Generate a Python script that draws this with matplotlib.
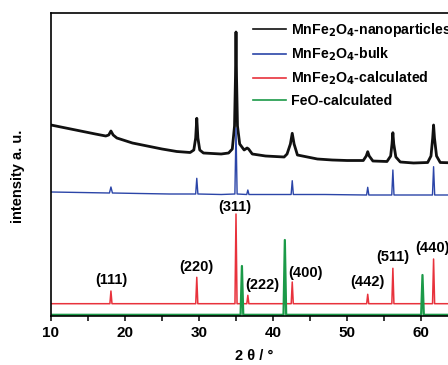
import numpy as np
import matplotlib
matplotlib.use("Agg")
import matplotlib.pyplot as plt
from matplotlib.lines import Line2D

plt.rcParams['font.family'] = ['Liberation Sans', 'DejaVu Sans']
plt.rcParams['font.weight'] = 'bold'
plt.rcParams['mathtext.default'] = 'bf'

# measured pattern: MnFe2O4 nanoparticles (2theta, intensity)
nano_x = [10.0, 12.0, 14.0, 16.0, 17.4, 17.8, 18.1, 18.4, 18.9, 21.0, 23.0, 25.0, 27.0,
          28.8, 29.3, 29.55, 29.7, 29.85, 30.1, 30.6, 33.0, 34.0, 34.5, 34.8, 34.93, 35.0,
          35.07, 35.2, 35.5, 36.1, 36.5, 36.7, 37.2, 39.0, 41.5, 41.9, 42.35, 42.6, 42.85,
          43.3, 46.0, 48.0, 50.0, 52.2, 52.6, 52.8, 53.0, 53.5, 55.4, 55.9, 56.08, 56.2,
          56.32, 56.6, 57.2, 59.0, 60.9, 61.35, 61.58, 61.7, 61.82, 62.1, 62.6, 65.0]
nano_y = [191, 188, 185, 182, 180, 181, 185, 181, 178, 173, 170, 167, 164.5,
          163.5, 166, 178, 197.7, 178, 166, 163, 162, 163, 167, 190, 240, 284,
          240, 190, 172, 166, 168, 167, 162, 160, 159, 162, 172, 182.7, 172,
          161, 157, 156, 155.5, 155.5, 160, 164.3, 160, 155, 154.5, 160, 172, 183.3,
          172, 159, 154, 153, 153.5, 160, 178, 191, 178, 160, 153.5, 153]

# measured pattern: MnFe2O4 bulk
bulk_x = [10.0, 14.0, 17.9, 18.1, 18.3, 22.0, 26.0, 29.55, 29.7, 29.85, 33.0, 34.85,
          35.0, 35.15, 36.45, 36.6, 36.75, 40.0, 42.45, 42.6, 42.75, 47.0, 52.65, 52.8,
          52.95, 56.05, 56.2, 56.35, 59.0, 61.55, 61.7, 61.85, 65.0]
bulk_y = [124, 123.5, 123, 129, 123, 122.5, 122, 122, 137.7, 122, 121.5, 122,
          187.7, 122, 121.5, 126, 121.5, 121.5, 121.5, 135.3, 121.5, 121.5, 121, 128.7,
          121, 121, 146, 121, 121, 121, 149.3, 121, 121]

# calculated reflections: MnFe2O4 (spinel) with hkl labels
calc_pos = [18.1, 29.7, 35.0, 36.6, 42.6, 52.8, 56.2, 61.7]
calc_int = [25, 38.7, 102, 20.7, 34, 21.7, 47.7, 57]
calc_base = 12.3
hkl = ["(111)", "(220)", "(311)", "(222)", "(400)", "(442)", "(511)", "(440)"]
hkl_x = [18.1, 29.7, 34.9, 38.5, 44.4, 52.7, 56.2, 61.6]
hkl_y = [36, 49.5, 109, 31, 43, 34, 59.5, 68]

# calculated reflections: FeO
feo_pos = [35.8, 41.6, 60.2]
feo_int = [50, 76, 41]
feo_base = 1.2

colors = ["#111111", "#2b45a8", "#e8323c", "#1b9a48"]
labels = [r"MnFe$_{2}$O$_{4}$-nanoparticles", r"MnFe$_{2}$O$_{4}$-bulk",
          r"MnFe$_{2}$O$_{4}$-calculated", "FeO-calculated"]


def stick_pattern(pos, inten, base, half=0.14):
    xs, ys = [10.0], [base]
    for p, h in zip(pos, inten):
        xs += [p - half, p, p + half]
        ys += [base, h, base]
    xs.append(65.0)
    ys.append(base)
    return xs, ys


fig = plt.figure(figsize=(4.48, 3.65), dpi=100)
ax = fig.add_axes([51 / 448, 49 / 365, 407 / 448, 303 / 365])

cx, cy = stick_pattern(calc_pos, calc_int, calc_base)
fx, fy = stick_pattern(feo_pos, feo_int, feo_base, half=0.18)

ax.plot(nano_x, nano_y, color=colors[0], lw=2.0)
ax.plot(bulk_x, bulk_y, color=colors[1], lw=1.0)
ax.plot(cx, cy, color=colors[2], lw=1.1)
ax.plot(fx, fy, color=colors[3], lw=1.6)

for t, x, y in zip(hkl, hkl_x, hkl_y):
    ax.text(x, y, t, ha="center", va="center", fontsize=10.5, fontweight="bold")

ax.set_xlim(10, 65)
ax.set_ylim(0, 303)
ax.set_xticks([10, 20, 30, 40, 50, 60])
ax.set_xticks([15, 25, 35, 45, 55], minor=True)
ax.set_yticks([])
ax.tick_params(axis="x", direction="out", length=3.5, width=1.1, labelsize=11, pad=4)
ax.tick_params(axis="x", which="minor", direction="out", length=3.5, width=1.1)
for s in ax.spines.values():
    s.set_linewidth(1.2)

ax.set_xlabel("2 θ / °", fontsize=10.5, fontweight="bold", labelpad=6)
ax.set_ylabel("intensity a. u.", fontsize=10.5, fontweight="bold")
ax.yaxis.set_label_coords(-0.064, 0.46)

handles = [Line2D([], [], color=c, lw=1.2) for c in colors]
fig.legend(handles, labels, loc="upper left", bbox_to_anchor=(253 / 448, 1 - 21 / 365),
           frameon=False, fontsize=10.2, handlelength=2.35, handletextpad=0.35,
           labelspacing=0.48, borderpad=0, borderaxespad=0)

fig.savefig("out.png", dpi=100)
